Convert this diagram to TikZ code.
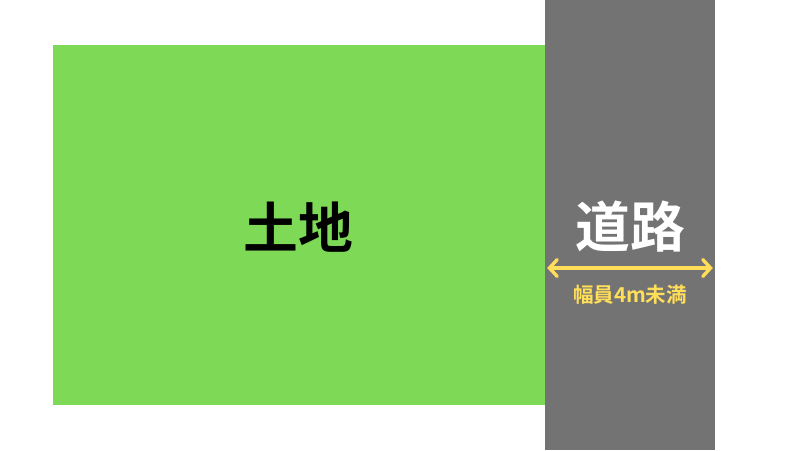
\documentclass[tikz,border=0pt]{standalone}
\usepackage{fontspec}
\newfontfamily\cjk{Noto Sans CJK JP Bold}
\usetikzlibrary{arrows.meta}
\definecolor{landgreen}{HTML}{7ED957}
\definecolor{roadgray}{HTML}{737373}
\definecolor{widthyellow}{HTML}{FFDE59}
\tikzset{
  biglabel/.style={font=\cjk\fontsize{39}{39}\selectfont, inner sep=0pt},
  smalllabel/.style={font=\cjk\fontsize{14.6}{14.6}\selectfont, inner sep=0pt, text=widthyellow},
  widtharrow/.style={widthyellow, line width=2.4pt, line cap=round,
    {Straight Barb[length=5.5pt,width=12pt,line cap=round]}-{Straight Barb[length=5.5pt,width=12pt,line cap=round]}}
}
\begin{document}
\begin{tikzpicture}[scale=1]
  \useasboundingbox (0,0) rectangle (20,11.25);
  \fill[white] (0,0) rectangle (20,11.25);
  \fill[landgreen] (1.325,1.125) rectangle (13.625,10.125);
  \fill[roadgray] (13.625,0) rectangle (17.875,11.25);
   \node[biglabel] (land) at (7.45,5.575) {土地};
   \node[biglabel, text=white] (road) at (15.75,5.575) {道路};
   \coordinate (wl) at (13.68,4.55);
   \coordinate (wr) at (17.82,4.55);
   \draw[widtharrow] (wl) -- (wr);
   \node[smalllabel] (width) at (15.75,3.87) {幅員4m未満};
  \end{tikzpicture}
\end{document}
